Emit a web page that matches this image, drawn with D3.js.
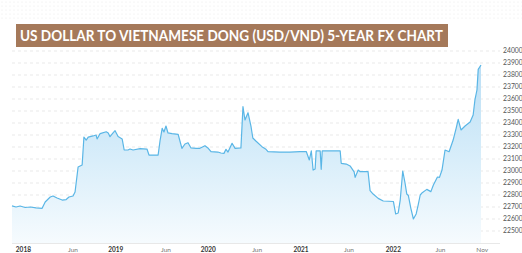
<!DOCTYPE html>
<html><head><meta charset="utf-8">
<script src="https://cdn.jsdelivr.net/npm/d3@7"></script>
<style>html,body{margin:0;padding:0;background:#fff;}svg{display:block;}</style>
</head><body>
<svg id="c" width="522" height="253"></svg>
<script>
const title = "US DOLLAR TO VIETNAMESE DONG (USD/VND) 5-YEAR FX CHART";
const dates = ["2017-11-17","2017-12-03","2017-12-19","2018-01-08","2018-01-28","2018-02-20","2018-03-16","2018-03-28","2018-04-17","2018-04-28","2018-05-14","2018-06-03","2018-06-19","2018-06-30","2018-07-16","2018-07-24","2018-08-05","2018-08-21","2018-08-28","2018-09-06","2018-09-14","2018-10-03","2018-10-15","2018-10-19","2018-10-31","2018-11-24","2018-12-02","2018-12-09","2018-12-21","2018-12-29","2019-01-10","2019-01-26","2019-02-03","2019-02-18","2019-02-26","2019-03-10","2019-04-07","2019-05-04","2019-05-12","2019-06-17","2019-06-25","2019-07-03","2019-07-10","2019-07-18","2019-07-26","2019-08-11","2019-09-04","2019-09-19","2019-10-01","2019-10-13","2019-10-25","2019-11-14","2019-11-29","2019-12-19","2020-01-01","2020-01-12","2020-02-08","2020-02-20","2020-03-03","2020-03-11","2020-03-19","2020-04-04","2020-04-16","2020-05-09","2020-05-17","2020-05-25","2020-06-06","2020-06-18","2020-06-25","2020-07-07","2020-07-31","2020-08-16","2020-08-24","2020-10-10","2020-11-18","2020-12-28","2021-01-22","2021-02-03","2021-02-11","2021-02-18","2021-02-26","2021-03-02","2021-03-18","2021-03-22","2021-03-26","2021-04-26","2021-06-05","2021-06-09","2021-06-29","2021-07-14","2021-07-30","2021-08-03","2021-08-15","2021-08-23","2021-09-23","2021-10-01","2021-10-13","2021-11-02","2021-11-22","2022-01-01","2022-01-10","2022-01-20","2022-01-28","2022-02-07","2022-02-16","2022-02-23","2022-03-01","2022-03-11","2022-03-21","2022-04-01","2022-04-09","2022-04-17","2022-04-25","2022-05-13","2022-05-29","2022-06-08","2022-06-24","2022-07-02","2022-07-12","2022-07-24","2022-08-09","2022-08-25","2022-09-06","2022-09-14","2022-09-25","2022-10-11","2022-10-31","2022-11-12","2022-11-19","2022-11-27","2022-12-02","2022-12-13"];
const rates = [22710,22700,22708,22696,22700,22692,22689,22742,22783,22792,22775,22758,22762,22783,22792,22825,23033,23050,23283,23258,23283,23292,23300,23267,23312,23327,23317,23286,23317,23336,23287,23267,23175,23175,23183,23175,23186,23183,23133,23133,23258,23356,23325,23375,23317,23312,23306,23189,23225,23236,23192,23189,23189,23211,23189,23161,23158,23150,23147,23181,23158,23231,23189,23192,23536,23425,23486,23369,23275,23250,23203,23181,23162,23158,23158,23161,23162,23092,23167,23008,23017,23167,23167,23014,23167,23167,23167,23064,23058,23042,22992,22947,23008,22994,22994,22836,22808,22772,22750,22746,22642,22650,22758,23000,22900,22808,22796,22689,22600,22642,22717,22800,22819,22847,22828,22883,22950,22947,23008,23175,23161,23258,23358,23431,23342,23375,23408,23467,23592,23675,23847,23883];
const yTicks = [22500,22600,22700,22800,22900,23000,23100,23200,23300,23400,23500,23600,23700,23800,23900,24000];
const xTickLabels = ["2018","Jun","2019","Jun","2020","Jun","2021","Jun","2022","Jun","Nov"];
const xTickDates = ["2018-01-01","2018-07-16","2019-01-01","2019-07-18","2020-01-01","2020-07-12","2021-01-01","2021-07-10","2022-01-01","2022-07-06","2022-12-18"];

const parse = d3.timeParse("%Y-%m-%d");
const data = dates.map((d,i)=>({date:parse(d), v:rates[i]}));

const svg = d3.select("#c");
const defs = svg.append("defs");
const pat = defs.append("pattern").attr("id","dots").attr("width",4).attr("height",4).attr("patternUnits","userSpaceOnUse");
pat.append("circle").attr("cx",2).attr("cy",2).attr("r",0.6).attr("fill","#e6e6e6");
svg.append("rect").attr("x",0).attr("y",0).attr("width",522).attr("height",20).attr("fill","url(#dots)");

const x = d3.scaleTime().domain([parse("2017-11-17"), parse("2022-12-13")]).range([12,481]);
const y = d3.scaleLinear().domain([22500,24000]).range([231,51]);
const baseY = 243;

// gridlines
svg.append("g").selectAll("line").data(yTicks).join("line")
  .attr("x1",12).attr("x2",500).attr("y1",d=>y(d)).attr("y2",d=>y(d))
  .attr("stroke","#e3e3e3").attr("stroke-width",0.8).attr("stroke-dasharray","3,3");

const grad = defs.append("linearGradient").attr("id","fillg").attr("x1",0).attr("y1",0).attr("x2",0).attr("y2",1)
  .attr("gradientUnits","userSpaceOnUse").attr("x1",0).attr("x2",0).attr("y1",60).attr("y2",baseY);
grad.append("stop").attr("offset","0%").attr("stop-color","#b9def5");
grad.append("stop").attr("offset","55%").attr("stop-color","#d9eefa");
grad.append("stop").attr("offset","100%").attr("stop-color","#f6fbfe");

const area = d3.area().x(d=>x(d.date)).y0(baseY).y1(d=>y(d.v));
svg.append("path").datum(data).attr("d",area).attr("fill","url(#fillg)");
const line = d3.line().x(d=>x(d.date)).y(d=>y(d.v));
svg.append("path").datum(data).attr("d",line).attr("fill","none").attr("stroke","#5ab6e6").attr("stroke-width",1.2).attr("stroke-linejoin","round");

// x axis line
svg.append("line").attr("x1",12).attr("x2",500).attr("y1",baseY+0.5).attr("y2",baseY+0.5).attr("stroke","#e8e8e8").attr("stroke-width",1);

// y labels
svg.append("g").selectAll("text").data(yTicks).join("text")
  .attr("x",503).attr("y",d=>y(d)).attr("dy","0.35em")
  .attr("font-family","Lato, 'Open Sans', sans-serif").attr("font-size",6.8).attr("fill","#555")
  .text(d=>d);

// x labels
svg.append("g").selectAll("text").data(xTickLabels).join("text")
  .attr("x",(d,i)=>x(parse(xTickDates[i]))).attr("y",252).attr("text-anchor","middle")
  .attr("font-family","Lato, 'Open Sans', sans-serif").attr("font-size",6.5)
  .attr("font-weight",d=>/^\d/.test(d)?"700":"400")
  .attr("fill",d=>/^\d/.test(d)?"#333":"#777")
  .text(d=>d);

// title
svg.append("rect").attr("x",16).attr("y",24).attr("width",432).attr("height",23).attr("fill","#a5795a");
svg.append("text").attr("x",20).attr("y",41).attr("fill","#fff")
  .attr("font-family","Lato, 'Open Sans', sans-serif").attr("font-weight","700").attr("font-size",15)
  .attr("textLength",423).attr("lengthAdjust","spacingAndGlyphs")
  .text(title);
</script>
</body></html>
